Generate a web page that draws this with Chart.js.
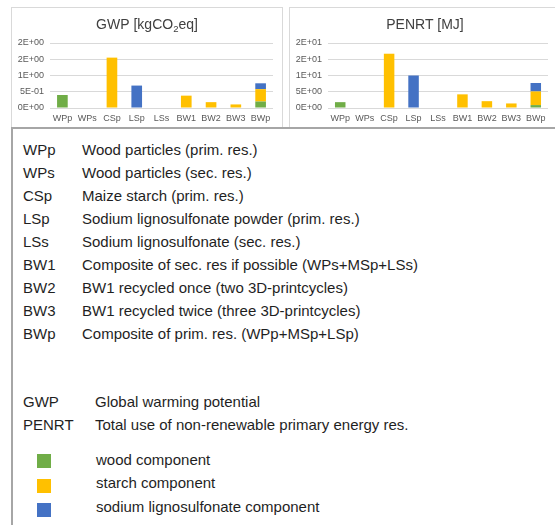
<!DOCTYPE html>
<html>
<head>
<meta charset="utf-8">
<script src="https://cdn.jsdelivr.net/npm/chart.js@4.4.1/dist/chart.umd.min.js"></script>
<style>
  html, body { margin: 0; padding: 0; background: #fff; }
  body { width: 555px; height: 525px; overflow: hidden; position: relative;
         font-family: "Liberation Sans", Arial, sans-serif; color: #1f1f1f; }
  .panel { position: absolute; top: 7px; width: 272px; height: 121px;
           border: 1px solid #d9d9d9; box-sizing: border-box; }
  .panel canvas { position: absolute; left: 0; top: 0; }
  #box { position: absolute; left: 11px; top: 127px; width: 560px; height: 420px;
         border-left: 2px solid #a6a6a6; border-top: 2px solid #a6a6a6; }
  .line { position: absolute; height: 23px; line-height: 23px; font-size: 15px; white-space: nowrap; }
  .sw { position: absolute; width: 14px; height: 14px; }
</style>
</head>
<body>
<div class="panel" style="left:11px"><canvas id="gwp"></canvas></div>
<div class="panel" style="left:289px"><canvas id="penrt"></canvas></div>
<div id="box"></div>
<div id="text"></div>

<script>
// Materials and composites along the x axis
const categories = ['WPp', 'WPs', 'CSp', 'LSp', 'LSs', 'BW1', 'BW2', 'BW3', 'BWp'];
const descriptions = [
  'Wood particles (prim. res.)',
  'Wood particles (sec. res.)',
  'Maize starch (prim. res.)',
  'Sodium lignosulfonate powder (prim. res.)',
  'Sodium lignosulfonate (sec. res.)',
  'Composite of sec. res if possible (WPs+MSp+LSs)',
  'BW1 recycled once (two 3D-printcycles)',
  'BW1 recycled twice (three 3D-printcycles)',
  'Composite of prim. res. (WPp+MSp+LSp)'
];

// Indicator abbreviations
const indicators = ['GWP', 'PENRT'];
const indicatorNames = ['Global warming potential', 'Total use of non-renewable primary energy res.'];

// Stacked components
const components = ['wood component', 'starch component', 'sodium lignosulfonate component'];

// GWP [kgCO2eq] per component
const gwpWood   = [0.40, 0, 0,    0,    0, 0,    0,    0,    0.20];
const gwpStarch = [0,    0, 1.55, 0,    0, 0.38, 0.18, 0.11, 0.38];
const gwpSodium = [0,    0, 0,    0.69, 0, 0,    0,    0,    0.18];

// PENRT [MJ] per component
const penrtWood   = [1.8, 0, 0,    0,    0, 0,   0,   0,   0.9];
const penrtStarch = [0,   0, 16.7, 0,    0, 4.2, 2.1, 1.4, 4.2];
const penrtSodium = [0,   0, 0,    10.0, 0, 0,   0,   0,   2.6];

// Axis ranges: min, max, step
const gwpAxis = [0, 2, 0.5];
const penrtAxis = [0, 20, 5];

const componentColors = ['#70ad47', '#ffc000', '#4472c4'];
const tickFont = { family: '"Liberation Sans", Arial, sans-serif', size: 9 };
const tickColor = '#595959';

// Excel-style "0E+00" number format
function sci(v) {
  const [m, e] = v.toExponential(0).split('e');
  const sign = e[0] === '-' ? '-' : '+';
  const digits = e.replace(/[+-]/, '').padStart(2, '0');
  return m + 'E' + sign + digits;
}

// Title with an optional subscript part: [before, sub, after]
function titlePlugin(parts) {
  return {
    id: 'subTitle',
    afterDraw(chart) {
      const ctx = chart.ctx;
      const big = '14px "Liberation Sans", Arial, sans-serif';
      const small = '9.5px "Liberation Sans", Arial, sans-serif';
      ctx.save();
      ctx.fillStyle = '#404040';
      ctx.textBaseline = 'alphabetic';
      ctx.font = big; const w0 = ctx.measureText(parts[0]).width;
      ctx.font = small; const w1 = parts[1] ? ctx.measureText(parts[1]).width : 0;
      ctx.font = big; const w2 = parts[2] ? ctx.measureText(parts[2]).width : 0;
      let x = chart.width / 2 - (w0 + w1 + w2) / 2;
      const y = 21;
      ctx.textAlign = 'left';
      ctx.font = big; ctx.fillText(parts[0], x, y); x += w0;
      if (parts[1]) { ctx.font = small; ctx.fillText(parts[1], x, y + 3); x += w1; }
      if (parts[2]) { ctx.font = big; ctx.fillText(parts[2], x, y); }
      ctx.restore();
    }
  };
}

function makeChart(id, series, axis, titleParts, padRight) {
  const canvas = document.getElementById(id);
  canvas.width = 270; canvas.height = 119;
  return new Chart(canvas, {
    type: 'bar',
    data: {
      labels: categories,
      datasets: series.map((d, i) => ({
        label: components[i],
        data: d,
        backgroundColor: componentColors[i],
        borderWidth: 0,
        categoryPercentage: 1,
        barPercentage: 0.43
      }))
    },
    options: {
      responsive: false,
      animation: false,
      devicePixelRatio: 1,
      layout: { padding: { top: 35, right: padRight, bottom: 0, left: 0 } },
      plugins: { legend: { display: false }, title: { display: false }, tooltip: { enabled: false } },
      scales: {
        x: {
          stacked: true,
          grid: { display: false, drawTicks: false },
          border: { display: false },
          ticks: { font: tickFont, color: tickColor, padding: 5, autoSkip: false, maxRotation: 0 },
          afterFit(s) { s.height = 19; }
        },
        y: {
          stacked: true,
          min: axis[0], max: axis[1],
          grid: { color: '#d9d9d9', lineWidth: 1, drawTicks: false },
          border: { display: false },
          ticks: { stepSize: axis[2], font: tickFont, color: tickColor, padding: 6, callback: v => sci(v) },
          afterFit(s) { s.width = 38; }
        }
      }
    },
    plugins: [titlePlugin(titleParts)]
  });
}

makeChart('gwp', [gwpWood, gwpStarch, gwpSodium], gwpAxis, ['GWP [kgCO', '2', 'eq]'], 9);
makeChart('penrt', [penrtWood, penrtStarch, penrtSodium], penrtAxis, ['PENRT [MJ]', '', ''], 12);

// Abbreviation table, indicator names and colour key
const text = document.getElementById('text');
function addLine(str, left, centerY) {
  const d = document.createElement('div');
  d.className = 'line';
  d.style.left = left + 'px';
  d.style.top = (centerY - 11.5) + 'px';
  d.textContent = str;
  text.appendChild(d);
}
categories.forEach((c, i) => {
  addLine(c, 23, 149 + i * 23);
  addLine(descriptions[i], 82, 149 + i * 23);
});
indicators.forEach((c, i) => {
  addLine(c, 23, 401.7 + i * 23);
  addLine(indicatorNames[i], 95, 401.7 + i * 23);
});
components.forEach((c, i) => {
  const s = document.createElement('div');
  s.className = 'sw';
  s.style.left = '37px';
  s.style.top = (454 + i * 24.5) + 'px';
  s.style.background = componentColors[i];
  text.appendChild(s);
  addLine(c, 96, 459 + i * 23.5);
});
</script>
</body>
</html>
